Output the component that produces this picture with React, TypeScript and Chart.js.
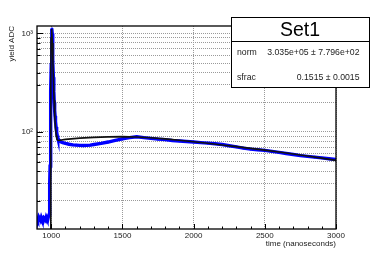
import React, { useEffect, useRef } from "react";
import { Chart, registerables } from "chart.js";

Chart.register(...registerables);

// ---- data ----
const timeData = [
  900, 905, 910, 915, 920, 925, 930, 935, 940, 945, 950, 955, 960, 965, 970, 975, 980, 985,
  988, 990, 992, 994, 996, 998, 1000, 1002, 1004, 1005, 1007, 1009, 1012, 1015, 1018, 1021,
  1024, 1027, 1030, 1034, 1038, 1042, 1046, 1050, 1060, 1070, 1080, 1100, 1125, 1150, 1175,
  1200, 1225, 1250, 1275, 1300, 1350, 1400, 1450, 1500, 1550, 1600, 1650, 1700, 1750, 1800,
  1850, 1900, 1950, 2000, 2050, 2100, 2150, 2200, 2250, 2300, 2350, 2400, 2450, 2500, 2550,
  2600, 2650, 2700, 2750, 2800, 2850, 2900, 2950, 3000,
];
const yieldData = [
  13.0, 12.6, 13.4, 12.8, 13.1, 12.7, 13.5, 12.9, 13.2, 12.6, 13.3, 13.0, 12.7, 13.6, 13.1, 12.8, 13.9, 14.5,
  20, 30, 45, 70, 130, 260, 480, 800, 1080, 1115, 1000, 780, 520, 360, 260, 200,
  165, 145, 128, 112, 100, 92, 87, 84, 81, 79, 78, 76.5, 75, 74, 73.5,
  73, 72.8, 73, 73.5, 74.5, 76.5, 79, 82, 85, 87.5, 89.5, 87.5, 86, 84.5, 83.5,
  82, 81, 80, 79, 78, 77, 76, 74.5, 72.5, 70.5, 68.5, 67, 66, 65, 63.5,
  62, 60.5, 59, 57.5, 56.5, 55.5, 54.5, 53.5, 52.5,
];
const timeFit = [
  900, 995, 997, 999, 1002, 1005, 1008, 1012, 1016, 1020, 1025, 1030, 1035, 1040, 1045, 1050,
  1100, 1200, 1300, 1400, 1500, 1600, 1700, 1800, 1900, 2000, 2100, 2200, 2300, 2400, 2500,
  2600, 2700, 2800, 2900, 3000,
];
const yieldFit = [
  1, 1, 400, 900, 1110, 1050, 800, 500, 320, 210, 140, 108, 92, 84, 82.5, 82,
  84, 86.5, 88.2, 89.2, 89.6, 89, 87.2, 85, 82.3, 79.5, 76.7, 73.8, 71, 68.2, 65.4,
  62.6, 59.8, 57, 54.2, 51.4,
];
const xTickValues = [1000, 1500, 2000, 2500, 3000];
const yTickValues = [20, 30, 40, 50, 60, 70, 80, 90, 100, 200, 300, 400, 500, 600, 700, 800, 900, 1000];
const yMajorLabels: Record<number, string> = { 100: "10\u00b2", 1000: "10\u00b3" };
const xAxisTitle = "time (nanoseconds)";
const yAxisTitle = "yield ADC";
const statTitle = "Set1";
const statNames = ["norm", "sfrac"];
const statValues = ["3.035e+05 \u00b1 7.796e+02", "0.1515 \u00b1 0.0015"];

const FONT = "'Liberation Sans', Arial, Helvetica, sans-serif";
const GRID = "#9a9a9a";

const framePlugin = {
  id: "rootFrame",
  afterDraw(chart: any) {
    const ctx = chart.ctx;
    const { left, right, top, bottom } = chart.chartArea;
    const xs = chart.scales.x;
    const ys = chart.scales.y;
    ctx.save();
    ctx.strokeStyle = "#000";
    ctx.lineWidth = 1;
    // x ticks (major + minor) from bottom edge
    for (let t = 1000; t <= 3000; t += 100) {
      const px = Math.round(xs.getPixelForValue(t)) + 0.5;
      const len = t % 500 === 0 ? 5 : 2.5;
      ctx.beginPath();
      ctx.moveTo(px, bottom);
      ctx.lineTo(px, bottom - len);
      ctx.stroke();
    }
    // y ticks from left edge
    for (const v of yTickValues) {
      const py = Math.round(ys.getPixelForValue(v)) + 0.5;
      const len = v === 100 || v === 1000 ? 6 : 3.5;
      ctx.beginPath();
      ctx.moveTo(left, py);
      ctx.lineTo(left + len, py);
      ctx.stroke();
    }
    // frame
    ctx.lineWidth = 1.3;
    ctx.strokeRect(left, top, right - left, bottom - top);

    // axis titles
    ctx.fillStyle = "#222";
    ctx.font = `8px ${FONT}`;
    ctx.textAlign = "right";
    ctx.textBaseline = "middle";
    ctx.fillText(xAxisTitle, right, 244);
    ctx.save();
    ctx.translate(11.5, top);
    ctx.rotate(-Math.PI / 2);
    ctx.textAlign = "right";
    ctx.fillText(yAxisTitle, 0, 0);
    ctx.restore();

    // stat box
    const bx = 231.5, by = 17.5, bw = 138, bh = 70;
    ctx.fillStyle = "#fff";
    ctx.fillRect(bx, by, bw, bh);
    ctx.strokeStyle = "#000";
    ctx.lineWidth = 1;
    ctx.strokeRect(bx, by, bw, bh);
    ctx.beginPath();
    ctx.moveTo(bx, 41.5);
    ctx.lineTo(bx + bw, 41.5);
    ctx.stroke();
    ctx.fillStyle = "#000";
    ctx.font = `19.5px ${FONT}`;
    ctx.textAlign = "center";
    ctx.textBaseline = "middle";
    ctx.fillText(statTitle, 300, 31);
    ctx.font = `8.7px ${FONT}`;
    ctx.fillStyle = "#222";
    const rowsY = [52.5, 77.5];
    statNames.forEach((n, i) => {
      ctx.textAlign = "left";
      ctx.fillText(n, 237, rowsY[i]);
      ctx.textAlign = "right";
      ctx.fillText(statValues[i], 359.5, rowsY[i]);
    });
    ctx.restore();
  },
};

export default function App() {
  const ref = useRef<HTMLCanvasElement | null>(null);
  useEffect(() => {
    if (!ref.current) return;
    const chart = new Chart(ref.current, {
      type: "line",
      data: {
        datasets: [
          {
            label: "fit",
            data: timeFit.map((t, i) => ({ x: t, y: yieldFit[i] })),
            borderColor: "#111",
            borderWidth: 1.6,
            pointRadius: 0,
            tension: 0,
            order: 0,
          },
          {
            label: "data",
            data: timeData.map((t, i) => ({ x: t, y: yieldData[i] })),
            borderColor: "#0000ff",
            backgroundColor: "#0000ff",
            borderWidth: 3.4,
            pointRadius: 1.3,
            pointBorderWidth: 0,
            tension: 0,
            order: 1,
          },
        ],
      },
      options: {
        responsive: false,
        animation: false,
        layout: { padding: { left: 0, top: 26, right: 38, bottom: 0 } },
        plugins: { legend: { display: false }, tooltip: { enabled: false } },
        scales: {
          x: {
            type: "linear",
            min: 900,
            max: 3000,
            afterFit: (s: any) => { s.height = 26; },
            afterBuildTicks: (s: any) => { s.ticks = xTickValues.map((v) => ({ value: v })); },
            grid: { color: GRID, drawTicks: false, lineWidth: 1 },
            border: { display: false, dash: [1, 1] },
            ticks: {
              padding: 2,
              autoSkip: false,
              maxRotation: 0,
              color: "#222",
              font: { family: FONT, size: 8 },
              callback: (v: any) => String(v),
            },
          },
          y: {
            type: "logarithmic",
            min: 10.35,
            max: 1190,
            afterFit: (s: any) => { s.width = 37; },
            afterBuildTicks: (s: any) => { s.ticks = yTickValues.map((v) => ({ value: v })); },
            grid: { color: GRID, drawTicks: false, lineWidth: 1 },
            border: { display: false, dash: [1, 1] },
            ticks: {
              padding: 4,
              autoSkip: false,
              color: "#222",
              font: { family: FONT, size: 8 },
              callback: (v: any) => yMajorLabels[Number(v)] ?? "",
            },
          },
        },
      },
      plugins: [framePlugin],
    } as any);
    return () => chart.destroy();
  }, []);
  return (
    <div style={{ position: "absolute", left: 0, top: 0, width: 374, height: 255, background: "#fff" }}>
      <canvas ref={ref} width={374} height={255} style={{ display: "block" }} />
    </div>
  );
}
